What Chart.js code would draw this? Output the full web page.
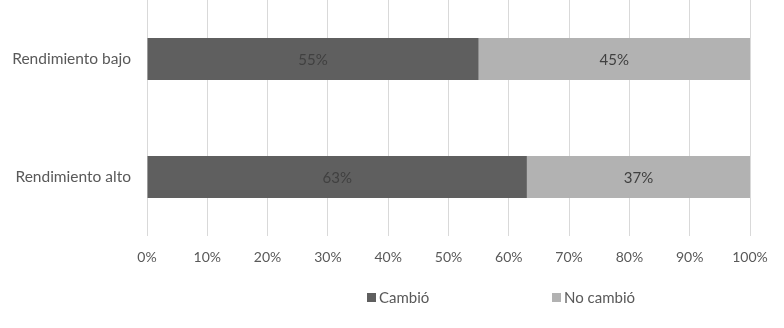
<!DOCTYPE html>
<html><head><meta charset="utf-8">
<script src="https://cdn.jsdelivr.net/npm/chart.js@4.4.0/dist/chart.umd.min.js"></script>
<style>html,body{margin:0;padding:0;background:#fff}#w{width:784px;height:328px}</style>
</head><body><div id="w"><canvas id="c"></canvas></div>
<script>
const categories = ["Rendimiento bajo", "Rendimiento alto"];
const cambio = [55, 63];
const noCambio = [45, 37];
const seriesNames = ["Cambió", "No cambió"];
const xTicks = [0,10,20,30,40,50,60,70,80,90,100];

const FONT = "Lato, 'Open Sans', sans-serif";
const colors = ["#5f5f5f", "#b2b2b2"];

const labelPlugin = {
  id: 'vals',
  afterDatasetsDraw(chart) {
    const ctx = chart.ctx;
    ctx.save();
    ctx.font = "15px " + FONT;
    ctx.fillStyle = "#404040";
    ctx.textAlign = "center";
    ctx.textBaseline = "middle";
    chart.data.datasets.forEach((ds, di) => {
      chart.getDatasetMeta(di).data.forEach((el, i) => {
        const p = el.getProps(['x','base','y'], true);
        ctx.fillText(ds.data[i] + "%", (p.x + p.base) / 2, p.y + 1);
      });
    });
    ctx.restore();
  }
};
const legendPlugin = {
  id: 'leg',
  afterDraw(chart) {
    const ctx = chart.ctx;
    ctx.save();
    ctx.font = "15px " + FONT;
    ctx.textBaseline = "middle";
    const y = 298;
    const xs = [367, 552];
    chart.data.datasets.forEach((ds, i) => {
      ctx.fillStyle = ds.backgroundColor;
      ctx.fillRect(xs[i], y - 5, 9, 9);
      ctx.fillStyle = "#595959";
      ctx.textAlign = "left";
      ctx.fillText(ds.label, xs[i] + 12, y);
    });
    ctx.restore();
  }
};

new Chart(document.getElementById('c'), {
  type: 'bar',
  data: {
    labels: categories,
    datasets: [
      {label: seriesNames[0], data: cambio, backgroundColor: colors[0], barPercentage: 0.356, categoryPercentage: 1},
      {label: seriesNames[1], data: noCambio, backgroundColor: colors[1], barPercentage: 0.356, categoryPercentage: 1}
    ]
  },
  options: {
    indexAxis: 'y',
    responsive: true,
    maintainAspectRatio: false,
    animation: false,
    layout: {padding: {left: 0, right: 34, top: 0, bottom: 52}},
    plugins: {legend: {display: false}, tooltip: {enabled: false}},
    scales: {
      x: {
        stacked: true, min: 0, max: 100,
        afterBuildTicks(s) { s.ticks = xTicks.map(v => ({value: v})); },
        grid: {color: "#d9d9d9", drawTicks: false},
        border: {display: false},
        ticks: {padding: 13, color: "#595959", font: {family: FONT, size: 14}, callback: v => v + "%"},
        afterFit(s) { s.height = 40; s.paddingLeft = 0; s.paddingRight = 0; }
      },
      y: {
        stacked: true,
        grid: {display: false, drawTicks: false},
        border: {display: false},
        ticks: {padding: 16, color: "#595959", font: {family: FONT, size: 15.5}},
        afterFit(s) { s.width = 147; s.paddingTop = 0; s.paddingBottom = 0; }
      }
    }
  },
  plugins: [labelPlugin, legendPlugin]
});
</script></body></html>
